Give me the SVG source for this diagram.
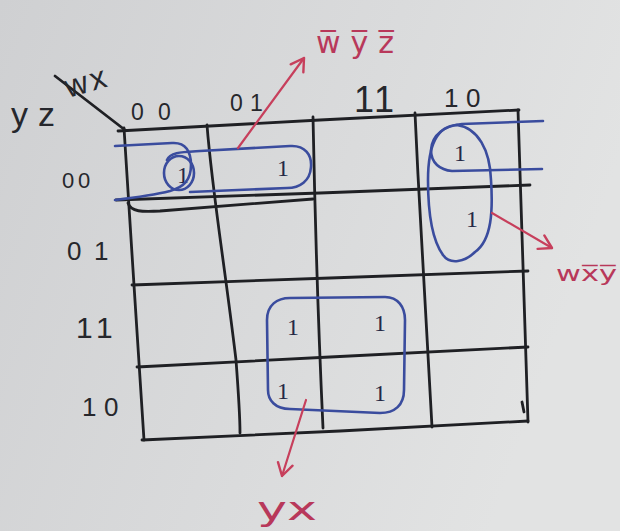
<svg xmlns="http://www.w3.org/2000/svg" width="620" height="531" viewBox="0 0 620 531">
<defs>
<linearGradient id="paper" x1="0" y1="0" x2="1" y2="0.3">
<stop offset="0" stop-color="#cfd0d2"/>
<stop offset="0.6" stop-color="#dadbdc"/>
<stop offset="1" stop-color="#e2e3e3"/>
</linearGradient>
<marker id="head" markerUnits="userSpaceOnUse" markerWidth="30" markerHeight="30" refX="0" refY="0" viewBox="-15 -15 30 30" orient="auto" overflow="visible">
<path d="M -13,-7 L 0,0 L -12,8" fill="none" stroke="#c73f5c" stroke-width="2.4" stroke-linecap="round" stroke-linejoin="round"/>
</marker>
<style>
.ink{fill:none;stroke:#1f2024;stroke-width:2.8;stroke-linecap:round;stroke-linejoin:round}
.blue{fill:none;stroke:#3a4c9e;stroke-width:2.6;stroke-linecap:round;stroke-linejoin:round}
.red{fill:none;stroke:#c73f5c;stroke-width:2.2;stroke-linecap:round}
.hd{font-family:"Liberation Sans",sans-serif;fill:#26272c}
.one{font-family:"Liberation Serif",serif;fill:#252846;font-size:24px;text-anchor:middle}
.rl{font-family:"DejaVu Sans",sans-serif;fill:#b8385a}
</style>
</defs>
<rect width="620" height="531" fill="url(#paper)"/>

<g id="grid">
<path class="ink" d="M 55,76 L 125,130"/>
<path class="ink" d="M 118,131 L 320,120 L 519,110"/>
<path class="ink" d="M 124,128 C 130,230 138,340 144,440"/>
<path class="ink" d="M 518,110 C 522,220 526,330 528,422"/>
<path class="ink" d="M 142,440 L 340,431 L 528,421"/>
<path class="ink" d="M 207,125 C 212,190 224,260 236,360 C 239,400 240,420 240,433"/>
<path class="ink" d="M 313,117 C 315,220 318,320 323,428"/>
<path class="ink" d="M 415,113 C 420,220 426,330 432,427"/>
<path class="ink" d="M 116,200 L 320,193 L 530,185"/>
<path class="ink" d="M 132,285 L 330,278 L 528,271"/>
<path class="ink" d="M 137,367 L 330,357 L 528,347"/>
<path class="ink" d="M 128,203 C 131,212 142,212 160,211 L 313,199" stroke-width="2.2"/>
<path class="ink" d="M 522,402 L 524,412" stroke-width="2.2"/>
</g>

<g id="axis-labels">
<text class="hd" x="68" y="98" font-size="32" letter-spacing="3" transform="rotate(-16 68 98)">wx</text>
<text class="hd" x="11 38" y="126" font-size="34">yz</text>
</g>

<g id="col-headers" class="hd" font-size="23">
<text x="131 158" y="120">00</text>
<text x="230 250" y="111">01</text>
<text x="354 374" y="112" font-size="36">11</text>
<text x="444 466" y="107" font-size="26">10</text>
</g>

<g id="row-headers" class="hd" font-size="22">
<text x="62 78" y="188">00</text>
<text x="67 94" y="260" font-size="26">01</text>
<text x="76 96" y="338" font-size="30">11</text>
<text x="82 104" y="416" font-size="26">10</text>
</g>

<g id="cells">
<text class="one" x="183" y="183">1</text>
<text class="one" x="283" y="176">1</text>
<text class="one" x="460" y="161">1</text>
<text class="one" x="472" y="227" font-size="30">1</text>
<text class="one" x="293" y="335">1</text>
<text class="one" x="380" y="331">1</text>
<text class="one" x="283" y="399">1</text>
<text class="one" x="380" y="401">1</text>
</g>

<g id="group-wbar-ybar-zbar">
<ellipse class="blue" cx="179" cy="173" rx="15" ry="17"/>
<path class="blue" d="M 115,146 L 172,143 C 186,142 191,152 191,165 C 191,180 184,187 170,191 C 158,194 140,197 115,200"/>
<path class="blue" d="M 167,160 C 170,152 182,152 200,151 L 290,146 C 305,145 312,155 311,167 C 310,181 300,188 287,188 L 190,192"/>
</g>

<g id="group-w-xbar-ybar">
<path class="blue" d="M 543,121 L 462,124 C 445,126 432,134 431,150 C 431,163 440,170 452,171 L 542,169"/>
<path class="blue" d="M 457,125 C 478,128 490,150 491,180 C 493,210 492,240 475,252 C 465,262 450,265 443,255 C 432,240 428,210 428,180 C 428,150 435,126 457,125 Z"/>
</g>

<g id="group-yx">
<path class="blue" d="M 290,298 L 385,297 C 398,297 405,307 405,320 L 404,390 C 404,405 395,413 380,413 L 290,409 C 275,409 268,400 268,390 L 267,320 C 267,305 277,298 290,298 Z"/>
</g>

<g id="connectors">
<path class="red" d="M 238,148 L 304,58" marker-end="url(#head)"/>
<path class="red" d="M 492,213 L 552,248" marker-end="url(#head)"/>
<path class="red" d="M 306,400 L 282,476" marker-end="url(#head)"/>
</g>

<g id="annotations">
<text class="rl" x="316" y="53" font-size="30" letter-spacing="10">w&#x305;y&#x305;z&#x305;</text>
<text class="rl" x="556" y="281" font-size="22" textLength="61" lengthAdjust="spacingAndGlyphs">wx&#x305;y&#x305;</text>
<text class="rl" x="257" y="520" font-size="32" textLength="60" lengthAdjust="spacingAndGlyphs">yx</text>
</g>
</svg>
